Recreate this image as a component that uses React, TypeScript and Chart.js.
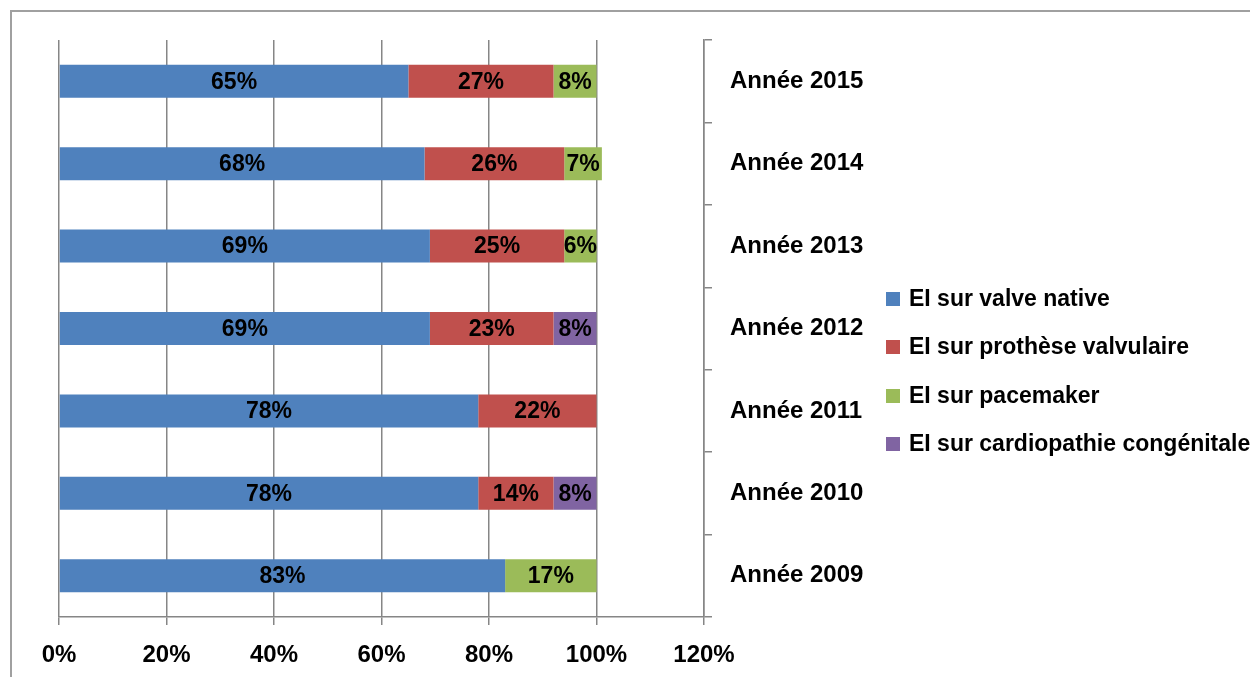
import React, { useEffect, useRef } from "react";
import { Chart, registerables } from "chart.js";

Chart.register(...registerables);

const categories = ["Année 2015", "Année 2014", "Année 2013", "Année 2012", "Année 2011", "Année 2010", "Année 2009"];
const seriesNames = ["EI sur valve native", "EI sur prothèse valvulaire", "EI sur pacemaker", "EI sur cardiopathie congénitale"];
const valveNative = [65, 68, 69, 69, 78, 78, 83];
const protheseValvulaire = [27, 26, 25, 23, 22, 14, 0];
const pacemaker = [8, 7, 6, 0, 0, 0, 17];
const cardiopathieCongenitale = [0, 0, 0, 8, 0, 8, 0];
const xTicks = [0, 20, 40, 60, 80, 100, 120];

const colors = ["#4F81BD", "#C0504D", "#9BBB59", "#8064A2"];
const FONT = "'Liberation Sans Narrow', 'Arial Narrow', 'Liberation Sans', sans-serif";
const GRID = "#868686";

const dataLabelPlugin = {
  id: "dataLabels",
  afterDatasetsDraw(chart: any) {
    const ctx = chart.ctx;
    ctx.save();
    ctx.font = `bold 23px ${FONT}`;
    ctx.fillStyle = "#000";
    ctx.textAlign = "center";
    ctx.textBaseline = "middle";
    chart.data.datasets.forEach((ds: any, di: number) => {
      const meta = chart.getDatasetMeta(di);
      meta.data.forEach((bar: any, i: number) => {
        const v = ds.data[i];
        if (!v) return;
        const cx = (bar.x + bar.base) / 2;
        ctx.fillText(`${v}%`, cx, bar.y + 1);
      });
    });
    ctx.restore();
  },
};

const legendPlugin = {
  id: "customLegend",
  afterDraw(chart: any) {
    const ctx = chart.ctx;
    ctx.save();
    ctx.font = `bold 23px ${FONT}`;
    ctx.textAlign = "left";
    ctx.textBaseline = "middle";
    const rowsY = [299, 347, 396, 444];
    seriesNames.forEach((name, i) => {
      const y = rowsY[i];
      ctx.fillStyle = colors[i];
      ctx.fillRect(886, y - 7, 14, 14);
      ctx.fillStyle = "#000";
      ctx.fillText(name, 909, y + 1);
    });
    ctx.restore();
  },
};

export default function App() {
  const ref = useRef<HTMLCanvasElement>(null);

  useEffect(() => {
    document.body.style.margin = "0";
    const chart = new Chart(ref.current!, {
      type: "bar",
      data: {
        labels: categories,
        datasets: [valveNative, protheseValvulaire, pacemaker, cardiopathieCongenitale].map((d, i) => ({
          label: seriesNames[i],
          data: d,
          backgroundColor: colors[i],
          borderWidth: 0,
          barPercentage: 0.4,
          categoryPercentage: 1,
        })),
      },
      options: {
        indexAxis: "y",
        animation: false,
        responsive: false,
        layout: { padding: { top: 40, left: 59, right: 376, bottom: 0 } },
        plugins: {
          legend: { display: false },
          tooltip: { enabled: false },
        },
        scales: {
          x: {
            stacked: true,
            min: 0,
            max: 120,
            afterBuildTicks: (scale: any) => {
              scale.ticks = xTicks.map((v) => ({ value: v }));
            },
            afterFit: (scale: any) => {
              scale.height = 60;
            },
            ticks: {
              color: "#000",
              font: { family: FONT, size: 24, weight: "bold" },
              padding: 16,
              maxRotation: 0,
              callback: (v: any) => `${v}%`,
            },
            grid: { color: GRID, lineWidth: 1.5, tickLength: 8, drawTicks: true },
            border: { color: GRID, width: 1.5 },
          },
          y: {
            stacked: true,
            position: "right",
            afterFit: (scale: any) => {
              scale.width = 170;
            },
            ticks: {
              color: "#000",
              font: { family: FONT, size: 24, weight: "bold" },
              padding: 18,
            },
            grid: { drawOnChartArea: false, drawTicks: true, tickLength: 8, color: GRID, lineWidth: 1.5 },
            border: { color: GRID, width: 1.5 },
          },
        },
      },
      plugins: [dataLabelPlugin, legendPlugin],
    } as any);
    return () => chart.destroy();
  }, []);

  return (
    <div style={{ position: "relative", width: 1250, height: 677, overflow: "hidden", background: "#fff" }}>
      <div
        style={{
          position: "absolute",
          left: 10,
          top: 10,
          width: 1300,
          height: 800,
          borderLeft: "2px solid #a0a0a0",
          borderTop: "2px solid #a0a0a0",
        }}
      />
      <canvas ref={ref} width={1250} height={677} style={{ position: "absolute", left: 0, top: 0 }} />
    </div>
  );
}
